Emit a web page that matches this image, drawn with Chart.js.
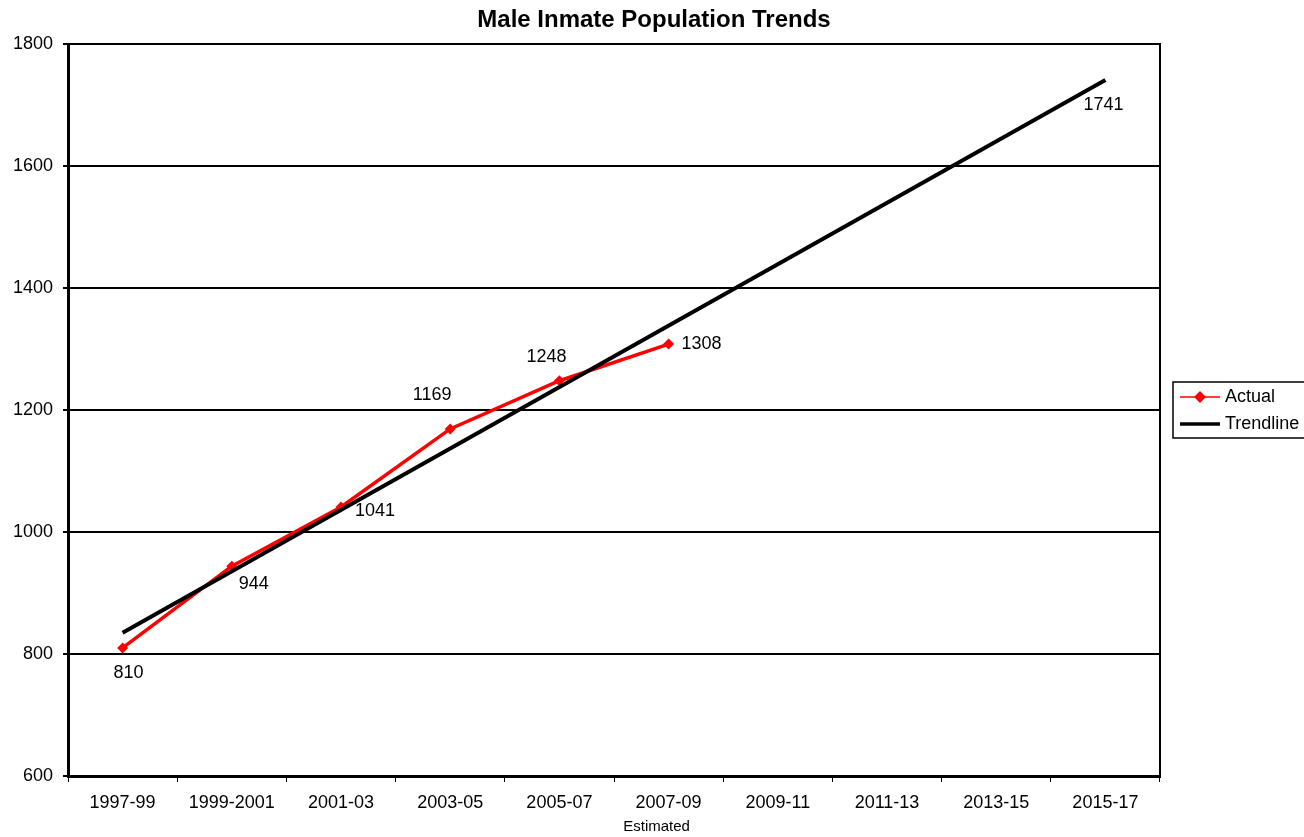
<!DOCTYPE html>
<html>
<head>
<meta charset="utf-8">
<script src="https://cdn.jsdelivr.net/npm/chart.js@4.4.1/dist/chart.umd.min.js"></script>
<style>
  html, body { margin:0; padding:0; background:#fff; }
  #wrap { width:1304px; height:837px; position:relative; }
</style>
</head>
<body>
<div id="wrap"><canvas id="grafico"></canvas></div>
<script>
const periodos = ["1997-99","1999-2001","2001-03","2003-05","2005-07","2007-09","2009-11","2011-13","2013-15","2015-17"];
const actual = [810, 944, 1041, 1169, 1248, 1308, null, null, null, null];
const tendencia = [835, null, null, null, null, null, null, null, null, 1741];
const ticksY = [600, 800, 1000, 1200, 1400, 1600, 1800];
const titulo = "Male Inmate Population Trends";
const nota = "Estimated";

const fuente = "'Liberation Sans', Arial, sans-serif";

// etiquetas de valor junto a cada punto (dx, dy respecto al punto)
const desplazaActual = [[6,25],[22,18],[34,4],[-18,-34],[-13,-24],[33,0]];

const etiquetas = {
  id: 'etiquetas',
  afterDatasetsDraw(chart) {
    const ctx = chart.ctx;
    ctx.save();
    ctx.fillStyle = '#000';
    ctx.textAlign = 'center';
    ctx.textBaseline = 'middle';

    // titulo centrado en todo el lienzo
    ctx.font = 'bold 24px ' + fuente;
    ctx.fillText(titulo, chart.width / 2 + 2, 20);

    ctx.font = '18px ' + fuente;
    const pts = chart.getDatasetMeta(0).data;
    actual.forEach((v, i) => {
      if (v === null) return;
      const d = desplazaActual[i];
      ctx.fillText(String(v), pts[i].x + d[0], pts[i].y + d[1]);
    });
    const t = chart.getDatasetMeta(1).data;
    const u = tendencia.length - 1;
    ctx.fillText(String(tendencia[u]), t[u].x - 2, t[u].y + 25);

    // nota bajo el eje
    const x = chart.scales.x.getPixelForValue(5);
    ctx.font = '15px ' + fuente;
    ctx.fillText(nota, x - 12, 827);
    ctx.restore();
  }
};

const marco = {
  id: 'marco',
  beforeDatasetsDraw(chart) {
    const a = chart.chartArea;
    const ctx = chart.ctx;
    ctx.save();
    ctx.strokeStyle = '#000';
    ctx.lineWidth = 2;
    ctx.beginPath();
    ctx.moveTo(a.left, a.top);
    ctx.lineTo(a.right, a.top);
    ctx.lineTo(a.right, a.bottom);
    ctx.stroke();
    ctx.restore();
  }
};

const leyenda = {
  id: 'leyenda',
  afterDraw(chart) {
    const ctx = chart.ctx;
    const x0 = chart.chartArea.right + 13, y0 = 382;
    ctx.save();
    ctx.strokeStyle = '#000';
    ctx.lineWidth = 1.5;
    ctx.strokeRect(x0, y0, 140, 56);
    // Actual
    ctx.strokeStyle = '#ff0000';
    ctx.lineWidth = 1.5;
    ctx.beginPath(); ctx.moveTo(x0 + 7, y0 + 15); ctx.lineTo(x0 + 47, y0 + 15); ctx.stroke();
    ctx.fillStyle = '#ff0000';
    ctx.beginPath();
    ctx.moveTo(x0 + 27, y0 + 9); ctx.lineTo(x0 + 33, y0 + 15);
    ctx.lineTo(x0 + 27, y0 + 21); ctx.lineTo(x0 + 21, y0 + 15);
    ctx.closePath(); ctx.fill();
    // Trendline
    ctx.strokeStyle = '#000';
    ctx.lineWidth = 3.5;
    ctx.beginPath(); ctx.moveTo(x0 + 7, y0 + 42); ctx.lineTo(x0 + 47, y0 + 42); ctx.stroke();
    ctx.fillStyle = '#000';
    ctx.font = '18px ' + fuente;
    ctx.textAlign = 'left';
    ctx.textBaseline = 'middle';
    ctx.fillText(chart.data.datasets[0].label, x0 + 52, y0 + 15);
    ctx.fillText(chart.data.datasets[1].label, x0 + 52, y0 + 42);
    ctx.restore();
  }
};

const ctx = document.getElementById('grafico').getContext('2d');
const grafico = new Chart(ctx, {
  type: 'line',
  data: {
    labels: periodos,
    datasets: [{
      label: 'Actual',
      data: actual,
      borderColor: '#ff0000',
      backgroundColor: '#ff0000',
      borderWidth: 3.5,
      pointStyle: 'rectRot',
      pointRadius: 5.5,
      pointBorderWidth: 0,
      tension: 0,
      order: 2
    }, {
      label: 'Trendline',
      data: tendencia,
      borderColor: '#000',
      borderWidth: 4,
      pointRadius: 0,
      spanGaps: true,
      tension: 0,
      order: 1
    }]
  },
  options: {
    responsive: true,
    maintainAspectRatio: false,
    animation: false,
    layout: { padding: { left: 0, right: 144, top: 44, bottom: 0 } },
    scales: {
      x: {
        offset: true,
        grid: { drawOnChartArea: false, color: '#000', lineWidth: 1, tickLength: 6, offset: true },
        border: { color: '#000', width: 3 },
        ticks: { color: '#000', font: { size: 18, family: fuente }, padding: 10, maxRotation: 0, autoSkip: false },
        afterFit(s) { s.height = 61; }
      },
      y: {
        min: 600, max: 1800,
        afterBuildTicks(s) { s.ticks = ticksY.map(v => ({ value: v })); },
        grid: { color: '#000', lineWidth: 2, tickLength: 5 },
        border: { color: '#000', width: 3 },
        ticks: { color: '#000', font: { size: 18, family: fuente }, padding: 10, callback: v => String(v) },
        afterFit(s) { s.width = 68; }
      }
    },
    plugins: {
      legend: { display: false },
      tooltip: { enabled: false },
      title: { display: false }
    }
  },
  plugins: [marco, etiquetas, leyenda]
});
</script>
</body>
</html>
